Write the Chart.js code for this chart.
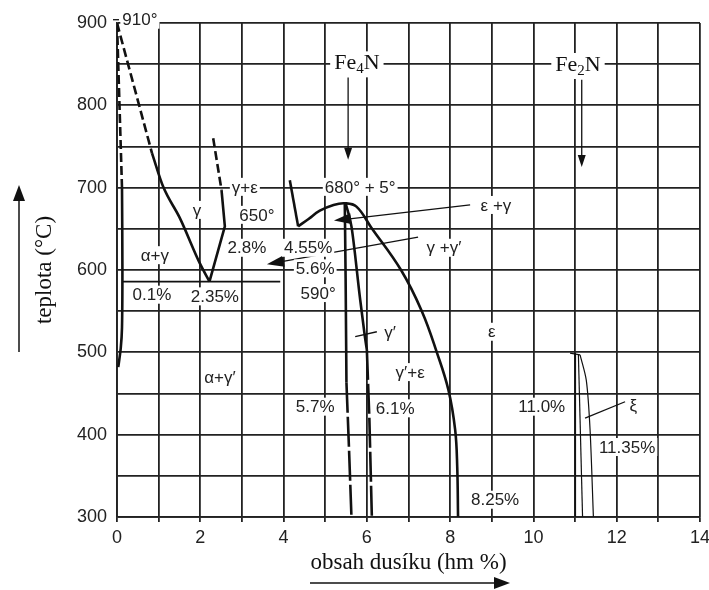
<!DOCTYPE html>
<html>
<head>
<meta charset="utf-8">
<script src="https://cdn.jsdelivr.net/npm/chart.js@4.4.1/dist/chart.umd.min.js"></script>
<style>
  html, body { margin: 0; padding: 0; background: #fff; }
  #wrap { width: 709px; height: 590px; position: relative; }
</style>
</head>
<body>
<div id="wrap"><canvas id="chart"></canvas></div>
<script>
// phase boundaries, points are [N wt %, temperature °C]
var alphaDashed = [[0, 900], [0.12, 700]];
var alphaSolid = [[0.12, 700], [0.13, 600], [0.12, 530], [0.09, 505], [0.03, 482]];
var gammaDashed = [[0, 900], [0.84, 742]];
var gammaSolid = [[0.84, 742], [1.11, 701], [1.51, 663], [1.99, 608], [2.22, 586]];
var gammaEpsDashed = [[2.31, 760], [2.51, 697]];
var gammaEpsSolid = [[2.51, 697], [2.59, 653], [2.22, 586]];
var eutectoid = [[0.12, 586], [3.92, 586]];
var epsLeft = [[4.15, 709], [4.35, 653]];
var epsCurve = [[4.35, 653], [4.6, 662], [4.87, 672], [5.2, 679], [5.47, 681], [5.75, 677],
    [6.1, 652], [6.82, 600], [7.32, 550], [7.68, 500], [7.96, 454],
    [8.12, 406], [8.17, 361], [8.19, 300]];
var gPrimeLeftSolid = [[5.47, 681], [5.49, 590], [5.51, 463]];
var gPrimeLeftDashed = [[5.51, 463], [5.57, 385], [5.63, 300]];
var gPrimeRightSolid = [[5.49, 681], [5.63, 653], [5.83, 568], [5.95, 520], [6.0, 503]];
var gPrimeRightDashed = [[6.0, 503], [6.06, 420], [6.12, 300]];
var zetaTop = [[10.88, 499], [11.12, 497]];
var zetaA = [[11.0, 499], [11.01, 300]];
var zetaB = [[11.08, 497], [11.18, 300]];
var zetaC = [[11.12, 497], [11.27, 466], [11.36, 406], [11.44, 300]];

// tick values shown on the axes
var xTickLabels = [0, 2, 4, 6, 8, 10, 12, 14];
var yTickLabels = [300, 400, 500, 600, 700, 800, 900];

// text in the diagram: [text, N %, °C]
var labels = [
    ['910°', 0.55, 904],
    ['γ+ε', 3.07, 701],
    ['650°', 3.36, 667],
    ['γ', 1.92, 673],
    ['α+γ', 0.91, 618],
    ['0.1%', 0.84, 570],
    ['2.35%', 2.35, 568],
    ['2.8%', 3.12, 627],
    ['4.55%', 4.59, 627],
    ['5.6%', 4.76, 602],
    ['590°', 4.83, 572],
    ['680° + 5°', 5.84, 701],
    ['ε +γ', 9.1, 679],
    ['γ +γ′', 7.85, 627],
    ['γ′', 6.56, 524],
    ['ε', 9.0, 525],
    ['γ′+ε', 7.04, 476],
    ['6.1%', 6.68, 432],
    ['8.25%', 9.08, 321],
    ['5.7%', 4.76, 434],
    ['α+γ′', 2.47, 470],
    ['11.0%', 10.2, 434],
    ['11.35%', 12.25, 385],
    ['ξ', 12.4, 436]
];
// nitrides: [before, subscript, after, N %, °C]
var formulas = [
    ['Fe', '4', 'N', 5.76, 851],
    ['Fe', '2', 'N', 11.07, 849]
];
// arrows with a head at the second point
var arrows = [
    [8.48, 679, 5.21, 660],
    [7.23, 640, 3.6, 607],
    [5.55, 834, 5.55, 734],
    [11.16, 831, 11.16, 725]
];
var leaders = [
    [5.72, 519, 6.24, 525],
    [11.24, 420, 12.2, 440]
];

var ink = '#111';

function curve(points, extra) {
    var ds = {
        data: points.map(function (p) { return { x: p[0], y: p[1] }; }),
        showLine: true,
        pointRadius: 0,
        borderColor: ink,
        borderWidth: 2.6,
        fill: false,
        tension: 0
    };
    return Object.assign(ds, extra || {});
}

var datasets = [
    curve(alphaDashed, { borderDash: [9, 4] }),
    curve(alphaSolid, { tension: 0.3 }),
    curve(gammaDashed, { borderDash: [9, 4] }),
    curve(gammaSolid, { cubicInterpolationMode: 'monotone' }),
    curve(gammaEpsDashed, { borderDash: [9, 4] }),
    curve(gammaEpsSolid),
    curve(eutectoid, { borderWidth: 1.8 }),
    curve(epsLeft),
    curve(epsCurve, { tension: 0.4 }),
    curve(gPrimeLeftSolid, { cubicInterpolationMode: 'monotone' }),
    curve(gPrimeLeftDashed, { borderDash: [30, 4] }),
    curve(gPrimeRightSolid, { cubicInterpolationMode: 'monotone' }),
    curve(gPrimeRightDashed, { borderDash: [30, 4] }),
    curve(zetaTop, { borderWidth: 1.2 }),
    curve(zetaA, { borderWidth: 1.2 }),
    curve(zetaB, { borderWidth: 1.2 }),
    curve(zetaC, { borderWidth: 1.2, tension: 0.3 })
];

function drawArrow(ctx, x1, y1, x2, y2, len, half) {
    var a = Math.atan2(y2 - y1, x2 - x1);
    ctx.beginPath();
    ctx.moveTo(x1, y1);
    ctx.lineTo(x2 - Math.cos(a) * len * 0.8, y2 - Math.sin(a) * len * 0.8);
    ctx.stroke();
    ctx.beginPath();
    ctx.moveTo(x2, y2);
    ctx.lineTo(x2 - Math.cos(a) * len - Math.sin(a) * half, y2 - Math.sin(a) * len + Math.cos(a) * half);
    ctx.lineTo(x2 - Math.cos(a) * len + Math.sin(a) * half, y2 - Math.sin(a) * len - Math.cos(a) * half);
    ctx.closePath();
    ctx.fill();
}

var annotate = {
    id: 'annotate',
    afterDatasetsDraw: function (chart) {
        var ctx = chart.ctx;
        var xs = chart.scales.x, ys = chart.scales.y;
        ctx.save();
        ctx.strokeStyle = ink;
        ctx.fillStyle = ink;

        // leader lines and arrows
        ctx.lineWidth = 1.3;
        leaders.forEach(function (l) {
            ctx.beginPath();
            ctx.moveTo(xs.getPixelForValue(l[0]), ys.getPixelForValue(l[1]));
            ctx.lineTo(xs.getPixelForValue(l[2]), ys.getPixelForValue(l[3]));
            ctx.stroke();
        });
        arrows.forEach(function (a, i) {
            var big = i < 2;
            drawArrow(ctx,
                xs.getPixelForValue(a[0]), ys.getPixelForValue(a[1]),
                xs.getPixelForValue(a[2]), ys.getPixelForValue(a[3]),
                big ? 17 : 12, big ? 5.5 : 4);
        });

        // small tick before 910°
        ctx.lineWidth = 1.3;
        ctx.beginPath();
        ctx.moveTo(xs.getPixelForValue(0) - 4, ys.getPixelForValue(904));
        ctx.lineTo(xs.getPixelForValue(0) + 2, ys.getPixelForValue(904));
        ctx.stroke();

        // labels with a white box behind them
        ctx.font = '17px "Liberation Sans", Arial, sans-serif';
        ctx.textAlign = 'center';
        ctx.textBaseline = 'middle';
        labels.forEach(function (l) {
            var px = xs.getPixelForValue(l[1]);
            var py = ys.getPixelForValue(l[2]);
            var w = ctx.measureText(l[0]).width;
            ctx.fillStyle = '#fff';
            ctx.fillRect(px - w / 2 - 2, py - 9, w + 4, 18);
            ctx.fillStyle = '#222';
            ctx.fillText(l[0], px, py + 1);
        });

        // Fe4N, Fe2N
        formulas.forEach(function (f) {
            var big = '22px "Liberation Serif", "Times New Roman", serif';
            var small = '15px "Liberation Serif", "Times New Roman", serif';
            ctx.font = big;
            var w1 = ctx.measureText(f[0]).width;
            var w3 = ctx.measureText(f[2]).width;
            ctx.font = small;
            var w2 = ctx.measureText(f[1]).width;
            var total = w1 + w2 + w3;
            var px = xs.getPixelForValue(f[3]) - total / 2;
            var py = ys.getPixelForValue(f[4]);
            ctx.fillStyle = '#fff';
            ctx.fillRect(px - 4, py - 12, total + 8, 26);
            ctx.fillStyle = ink;
            ctx.textAlign = 'left';
            ctx.font = big;
            ctx.fillText(f[0], px, py);
            ctx.font = small;
            ctx.fillText(f[1], px + w1, py + 6);
            ctx.font = big;
            ctx.fillText(f[2], px + w1 + w2, py);
        });

        // direction arrows next to the axis titles
        ctx.lineWidth = 1.5;
        drawArrow(ctx, 19, 352, 19, 185, 16, 6);
        drawArrow(ctx, 310, 583, 510, 583, 16, 6);
        ctx.restore();
    }
};

var gridStyle = { color: '#222', lineWidth: 1.8 };

new Chart(document.getElementById('chart'), {
    type: 'scatter',
    data: { datasets: datasets },
    options: {
        responsive: true,
        maintainAspectRatio: false,
        animation: false,
        layout: { padding: { top: 23, right: 9, left: 0, bottom: 0 } },
        plugins: {
            legend: { display: false },
            tooltip: { enabled: false }
        },
        scales: {
            x: {
                type: 'linear',
                min: 0,
                max: 14,
                grid: { color: gridStyle.color, lineWidth: gridStyle.lineWidth, drawTicks: true, tickLength: 5 },
                border: { display: true, color: '#222', width: 1.8 },
                ticks: {
                    stepSize: 1,
                    autoSkip: false,
                    maxRotation: 0,
                    padding: 5,
                    color: '#222',
                    font: { family: '"Liberation Sans", Arial, sans-serif', size: 18 },
                    callback: function (v) { return xTickLabels.indexOf(v) >= 0 ? String(v) : ''; }
                },
                title: {
                    display: true,
                    text: 'obsah dusíku (hm %)',
                    color: ink,
                    font: { family: '"Liberation Serif", "Times New Roman", serif', size: 23 },
                    padding: { top: 0, bottom: 13 }
                },
                afterFit: function (scale) {
                    scale.height = 73;
                    scale.paddingLeft = 0;
                    scale.paddingRight = 0;
                }
            },
            y: {
                type: 'linear',
                min: 300,
                max: 900,
                grid: { color: gridStyle.color, lineWidth: gridStyle.lineWidth, drawTicks: false },
                border: { display: true, color: '#222', width: 1.8 },
                ticks: {
                    stepSize: 50,
                    autoSkip: false,
                    padding: 10,
                    color: '#222',
                    font: { family: '"Liberation Sans", Arial, sans-serif', size: 18 },
                    callback: function (v) { return yTickLabels.indexOf(v) >= 0 ? String(v) : ''; }
                },
                title: {
                    display: true,
                    text: 'teplota (°C)',
                    color: ink,
                    font: { family: '"Liberation Serif", "Times New Roman", serif', size: 23 },
                    padding: { top: 31, bottom: 0 }
                },
                afterFit: function (scale) {
                    scale.width = 117;
                }
            }
        }
    },
    plugins: [annotate]
});
</script>
</body>
</html>
